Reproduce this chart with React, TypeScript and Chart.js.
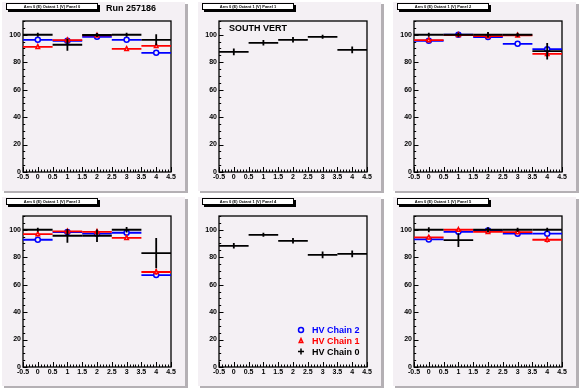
import React, { useEffect, useRef } from "react";
import { Chart, registerables } from "chart.js";

Chart.register(...registerables);

// ---------------- data ----------------
const BINS = [0, 1, 2, 3, 4];
const X_TICKS = [-0.5, 0, 0.5, 1, 1.5, 2, 2.5, 3, 3.5, 4, 4.5];
const Y_TICKS = [0, 20, 40, 60, 80, 100];
const SERIES_LABELS = ["HV Chain 0", "HV Chain 1", "HV Chain 2"];
const PANEL_TITLES = [
  "Arm 0 (E) Octant 1 (V) Panel 0",
  "Arm 0 (E) Octant 1 (V) Panel 1",
  "Arm 0 (E) Octant 1 (V) Panel 2",
  "Arm 0 (E) Octant 1 (V) Panel 3",
  "Arm 0 (E) Octant 1 (V) Panel 4",
  "Arm 0 (E) Octant 1 (V) Panel 5",
];
const RUN_LABEL = "Run 257186";
const SIDE_LABEL = "SOUTH VERT";

// panel 0
const p0Chain0 = [100, 92.7, 99.8, 100, 96.3];
const p0Chain0Err = [1.5, 4.3, 1.5, 1.5, 4.0];
const p0Chain1 = [91.2, 96.1, 99.5, 89.7, 91.9];
const p0Chain1Err = [1.5, 1.5, 1.2, 1.5, 1.5];
const p0Chain2 = [96.3, 95.6, 98.5, 96.3, 86.8];
const p0Chain2Err = [1.2, 1.2, 1.0, 1.2, 1.5];
// panel 1
const p1Chain0 = [87.5, 94.1, 96.3, 98.5, 89.0];
const p1Chain0Err = [2.5, 2.0, 2.0, 1.5, 2.5];
// panel 2
const p2Chain0 = [100, 100, 100, 100, 88.0];
const p2Chain0Err = [1.5, 1.5, 2.0, 1.5, 6.0];
const p2Chain1 = [96.1, 99.8, 99.0, 99.5, 86.0];
const p2Chain1Err = [1.2, 1.0, 1.0, 1.2, 2.0];
const p2Chain2 = [95.6, 100, 98.3, 93.4, 89.5];
const p2Chain2Err = [1.2, 1.0, 1.0, 1.2, 1.5];
// panel 3
const p3Chain0 = [100, 95.6, 95.6, 100, 82.9];
const p3Chain0Err = [1.5, 5.0, 4.5, 2.0, 11.0];
const p3Chain1 = [96.8, 98.8, 98.5, 94.1, 69.2];
const p3Chain1Err = [1.5, 1.0, 1.2, 1.5, 2.0];
const p3Chain2 = [92.7, 98.3, 97.1, 97.8, 67.0];
const p3Chain2Err = [1.2, 1.0, 1.2, 1.2, 2.0];
// panel 4
const p4Chain0 = [88.3, 96.3, 91.9, 81.7, 82.4];
const p4Chain0Err = [2.0, 1.5, 2.0, 2.5, 2.5];
// panel 5
const p5Chain0 = [100, 92.4, 100, 100, 100];
const p5Chain0Err = [1.8, 5.0, 1.8, 1.5, 1.5];
const p5Chain1 = [94.4, 100, 98.5, 98.3, 92.7];
const p5Chain1Err = [1.5, 1.0, 1.2, 1.2, 2.0];
const p5Chain2 = [92.9, 98.5, 99.5, 97.1, 97.1];
const p5Chain2Err = [1.2, 1.0, 1.0, 1.2, 1.2];

// ---------------- styling ----------------
const COLORS = ["#000000", "#ff0000", "#0000ff"];
const MARKERS: any[] = [false, "triangle", "circle"];
const PAD_BG = "#f4f0f4";
const OUTER_BG = "#ffffff";
const SHADOW = "#b4b0b4";
const FONT = "Liberation Sans, Arial, Helvetica, sans-serif";

type Series = { values: number[]; errs: number[] };
type Panel = { title: string; series: (Series | null)[]; run?: boolean; side?: boolean; legend?: boolean };

const PANELS: Panel[] = [
  { title: PANEL_TITLES[0], run: true, series: [
    { values: p0Chain0, errs: p0Chain0Err },
    { values: p0Chain1, errs: p0Chain1Err },
    { values: p0Chain2, errs: p0Chain2Err } ] },
  { title: PANEL_TITLES[1], side: true, series: [
    { values: p1Chain0, errs: p1Chain0Err }, null, null ] },
  { title: PANEL_TITLES[2], series: [
    { values: p2Chain0, errs: p2Chain0Err },
    { values: p2Chain1, errs: p2Chain1Err },
    { values: p2Chain2, errs: p2Chain2Err } ] },
  { title: PANEL_TITLES[3], series: [
    { values: p3Chain0, errs: p3Chain0Err },
    { values: p3Chain1, errs: p3Chain1Err },
    { values: p3Chain2, errs: p3Chain2Err } ] },
  { title: PANEL_TITLES[4], legend: true, series: [
    { values: p4Chain0, errs: p4Chain0Err }, null, null ] },
  { title: PANEL_TITLES[5], series: [
    { values: p5Chain0, errs: p5Chain0Err },
    { values: p5Chain1, errs: p5Chain1Err },
    { values: p5Chain2, errs: p5Chain2Err } ] },
];

const COL_LEFT = [0, 196, 391];
const COL_W = [196, 195, 196];
const ROW_TOP = [0, 195];
const PAD_H = 195;

function drawMarker(ctx: CanvasRenderingContext2D, kind: number, x: number, y: number) {
  ctx.save();
  ctx.strokeStyle = COLORS[kind];
  ctx.fillStyle = PAD_BG;
  ctx.lineWidth = 1.5;
  if (kind === 2) {
    ctx.beginPath();
    ctx.arc(x, y, 2.5, 0, Math.PI * 2);
    ctx.fill();
    ctx.stroke();
  } else if (kind === 1) {
    ctx.beginPath();
    ctx.moveTo(x, y - 2.2);
    ctx.lineTo(x + 1.8, y + 1.6);
    ctx.lineTo(x - 1.8, y + 1.6);
    ctx.closePath();
    ctx.fill();
    ctx.stroke();
  } else {
    ctx.beginPath();
    ctx.moveTo(x - 3, y);
    ctx.lineTo(x + 3, y);
    ctx.moveTo(x, y - 3);
    ctx.lineTo(x, y + 3);
    ctx.stroke();
  }
  ctx.restore();
}

function makePlugin(panel: Panel) {
  return {
    id: "rootpad",
    beforeDraw(chart: any) {
      const { ctx, width, height } = chart;
      ctx.save();
      ctx.fillStyle = OUTER_BG;
      ctx.fillRect(0, 0, width, height);
      ctx.fillStyle = SHADOW;
      ctx.fillRect(4, 4, 184, 189);
      ctx.fillStyle = PAD_BG;
      ctx.fillRect(2, 2, 183, 189);
      ctx.restore();
    },
    beforeDatasetsDraw(chart: any) {
      const { ctx, chartArea: ca, scales } = chart;
      const xs = scales.x;
      const ys = scales.y;
      ctx.save();
      ctx.strokeStyle = "#000";
      ctx.lineWidth = 1;
      ctx.beginPath();
      for (let i = 0; i <= 50; i++) {
        const v = -0.5 + i * 0.1;
        const px = Math.round(xs.getPixelForValue(v)) + 0.5;
        const len = i % 5 === 0 ? 5 : 2.5;
        ctx.moveTo(px, ca.bottom);
        ctx.lineTo(px, ca.bottom - len);
      }
      for (let i = 0; i <= 22; i++) {
        const v = i * 5;
        const py = Math.round(ys.getPixelForValue(v)) + 0.5;
        const len = i % 4 === 0 ? 4.5 : 2.2;
        ctx.moveTo(ca.left, py);
        ctx.lineTo(ca.left + len, py);
      }
      ctx.stroke();
      ctx.lineWidth = 1.3;
      ctx.strokeRect(ca.left, ca.top, ca.right - ca.left, ca.bottom - ca.top);
      ctx.restore();
    },
    beforeDatasetDraw(chart: any, args: any) {
      const { ctx, scales } = chart;
      const xs = scales.x;
      const ys = scales.y;
      const ds = chart.data.datasets[args.index];
      const kind = ds.kind as number;
      ctx.save();
      ctx.strokeStyle = COLORS[kind];
      ctx.lineWidth = 1.8;
      ds.data.forEach((pt: any) => {
        const x0 = xs.getPixelForValue(pt.x - 0.5);
        const x1 = xs.getPixelForValue(pt.x + 0.5);
        const xc = xs.getPixelForValue(pt.x);
        const yc = ys.getPixelForValue(pt.y);
        const ya = ys.getPixelForValue(pt.y - pt.e);
        const yb = ys.getPixelForValue(pt.y + pt.e);
        ctx.beginPath();
        ctx.moveTo(x0, yc);
        ctx.lineTo(x1, yc);
        ctx.moveTo(xc, ya);
        ctx.lineTo(xc, yb);
        ctx.stroke();
      });
      ctx.restore();
    },
    afterDraw(chart: any) {
      const { ctx } = chart;
      ctx.save();
      ctx.fillStyle = "#000";
      ctx.fillRect(8, 5, 92, 7);
      ctx.fillStyle = "#fff";
      ctx.fillRect(6, 3, 92, 7);
      ctx.strokeStyle = "#000";
      ctx.lineWidth = 1;
      ctx.strokeRect(6.5, 3.5, 91, 6);
      ctx.fillStyle = "#000";
      ctx.font = `bold 4px ${FONT}`;
      ctx.textAlign = "center";
      ctx.textBaseline = "middle";
      ctx.fillText(panel.title, 52, 6.8);
      if (panel.run) {
        ctx.font = `bold 9px ${FONT}`;
        ctx.textAlign = "left";
        ctx.fillText(RUN_LABEL, 106, 9);
      }
      if (panel.side) {
        ctx.font = `bold 9px ${FONT}`;
        ctx.textAlign = "left";
        ctx.fillText(SIDE_LABEL, 33, 28.5);
      }
      if (panel.legend) {
        const rows = [2, 1, 0];
        rows.forEach((k, i) => {
          const y = 135 + i * 10.8;
          drawMarker(ctx, k, 105, y);
          ctx.font = `bold 9px ${FONT}`;
          ctx.textAlign = "left";
          ctx.textBaseline = "middle";
          ctx.fillStyle = COLORS[k];
          ctx.fillText(SERIES_LABELS[k], 116, y + 0.5);
        });
      }
      ctx.restore();
    },
    afterDatasetDraw(chart: any, args: any) {
      const { ctx, scales } = chart;
      const ds = chart.data.datasets[args.index];
      const kind = ds.kind as number;
      if (kind === 0) return;
      ds.data.forEach((pt: any) => {
        drawMarker(ctx, kind, scales.x.getPixelForValue(pt.x), scales.y.getPixelForValue(pt.y));
      });
    },
  };
}

function Pad({ panel, index }: { panel: Panel; index: number }) {
  const ref = useRef<HTMLCanvasElement | null>(null);
  const col = index % 3;
  const row = Math.floor(index / 3);
  const w = COL_W[col];
  useEffect(() => {
    if (!ref.current) return;
    const datasets: any[] = [];
    panel.series.forEach((s, k) => {
      if (!s) return;
      datasets.push({
        label: SERIES_LABELS[k],
        kind: k,
        data: BINS.map((b, i) => ({ x: b, y: s.values[i], e: s.errs[i] })),
        showLine: false,
        pointStyle: MARKERS[k],
        pointRadius: 0,
        borderColor: COLORS[k],
        backgroundColor: PAD_BG,
      });
    });
    const chart = new Chart(ref.current, {
      type: "scatter",
      data: { datasets },
      options: {
        animation: false,
        responsive: false,
        devicePixelRatio: 1,
        events: [],
        layout: { padding: { top: 21, right: w - 171, left: 0, bottom: 0 } },
        plugins: { legend: { display: false }, tooltip: { enabled: false } },
        scales: {
          x: {
            type: "linear",
            min: -0.5,
            max: 4.5,
            afterBuildTicks: (s: any) => { s.ticks = X_TICKS.map((value) => ({ value })); },
            afterFit: (s: any) => { s.height = 23; },
            grid: { display: false, drawTicks: false },
            border: { display: false },
            ticks: {
              padding: 1,
              maxRotation: 0,
              autoSkip: false,
              color: "#000",
              font: { family: FONT, size: 7, weight: "bold" },
              callback: (v: any) => String(v),
            },
          },
          y: {
            type: "linear",
            min: 0,
            max: 110,
            afterBuildTicks: (s: any) => { s.ticks = Y_TICKS.map((value) => ({ value })); },
            afterFit: (s: any) => { s.width = 23; },
            grid: { display: false, drawTicks: false },
            border: { display: false },
            ticks: {
              padding: 2,
              autoSkip: false,
              color: "#000",
              font: { family: FONT, size: 7, weight: "bold" },
              callback: (v: any) => String(v),
            },
          },
        },
      } as any,
      plugins: [makePlugin(panel)],
    });
    return () => chart.destroy();
  }, [panel, w]);
  return (
    <canvas
      ref={ref}
      width={w}
      height={PAD_H}
      style={{ position: "absolute", left: COL_LEFT[col], top: ROW_TOP[row], width: w, height: PAD_H }}
    />
  );
}

export default function App() {
  return (
    <div style={{ position: "absolute", left: 0, top: 0, width: 587, height: 390, background: OUTER_BG }}>
      {PANELS.map((p, i) => (
        <Pad key={i} panel={p} index={i} />
      ))}
    </div>
  );
}
